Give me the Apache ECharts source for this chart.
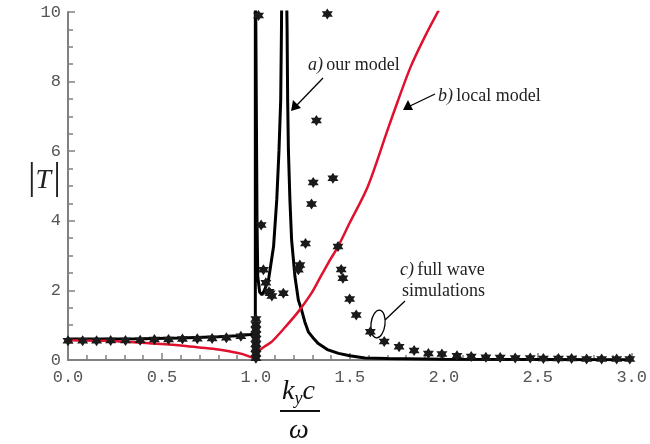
<!DOCTYPE html>
<html>
<head>
<meta charset="utf-8">
<script src="https://cdn.jsdelivr.net/npm/echarts@6/dist/echarts.min.js"></script>
<style>
  html, body { margin: 0; padding: 0; background: #fff; }
  #main { width: 650px; height: 444px; }
</style>
</head>
<body>
<div id="main"></div>
<script>
// a) our model
var modelX = [0, 0.2, 0.4, 0.6, 0.8, 0.9, 0.97, 0.995, 0.997, 0.997, 1.003, 1.006, 1.01, 1.02, 1.032, 1.045, 1.067, 1.094, 1.111, 1.123, 1.132, 1.136, 1.14, 1.16, 1.166, 1.169, 1.173, 1.181, 1.19, 1.208, 1.226, 1.243, 1.26, 1.28, 1.31, 1.33, 1.38, 1.44, 1.5, 1.58, 1.7, 2.0, 2.5, 3.0];
var modelY = [0.6, 0.6, 0.61, 0.63, 0.67, 0.7, 0.73, 0.75, 0, 12, 12, 4, 2.4, 1.95, 1.87, 2.0, 2.3, 3.26, 4.6, 6.03, 7.47, 9.5, 12, 12, 9.5, 7.47, 6.03, 4.6, 3.45, 2.39, 1.72, 1.44, 1.1, 0.8, 0.6, 0.48, 0.3, 0.19, 0.12, 0.06, 0.04, 0.025, 0.015, 0.01];

// b) local model
var localX = [0, 0.2, 0.433, 0.6, 0.7, 0.8, 0.87, 0.93, 0.96, 0.985, 1.0, 1.014, 1.05, 1.085, 1.155, 1.226, 1.296, 1.33, 1.384, 1.437, 1.5, 1.595, 1.7, 1.754, 1.824, 1.9, 1.974];
var localY = [0.57, 0.55, 0.48, 0.42, 0.36, 0.3, 0.24, 0.17, 0.11, 0.05, 0, 0.24, 0.4, 0.53, 0.94, 1.39, 1.92, 2.25, 2.78, 3.26, 3.95, 4.98, 6.6, 7.42, 8.43, 9.3, 10.06];

// c) full wave simulations
var simX = [0, 0.078, 0.152, 0.227, 0.306, 0.384, 0.46, 0.535, 0.609, 0.688, 0.767, 0.843, 0.92,
  1.0, 1.0, 1.0, 1.0, 1.0, 1.0, 1.0, 1.0, 1.0,
  1.014, 1.38, 1.322, 1.41, 1.305, 1.296, 1.028, 1.264, 1.437, 1.04, 1.234, 1.226, 1.454, 1.463,
  1.053, 1.07, 1.076, 1.085, 1.146, 1.499, 1.534, 1.609, 1.683, 1.762, 1.842, 1.918, 1.99, 2.07,
  2.146, 2.224, 2.3, 2.38, 2.46, 2.53, 2.61, 2.68, 2.76, 2.84, 2.92, 2.99];
var simY = [0.55, 0.55, 0.55, 0.56, 0.56, 0.57, 0.59, 0.59, 0.6, 0.61, 0.62, 0.64, 0.68,
  0.05, 0.18, 0.32, 0.46, 0.6, 0.74, 0.88, 1.02, 1.18,
  9.9, 9.94, 6.88, 5.22, 5.1, 4.48, 3.88, 3.35, 3.26, 2.59, 2.73, 2.59, 2.6, 2.35,
  2.22, 1.96, 1.92, 1.84, 1.92, 1.75, 1.29, 0.81, 0.53, 0.38, 0.27, 0.19, 0.17, 0.12,
  0.1, 0.08, 0.07, 0.06, 0.06, 0.04, 0.04, 0.04, 0.03, 0.03, 0.03, 0.03];

function pairs(xs, ys) {
  var out = [];
  for (var i = 0; i < xs.length; i++) out.push([xs[i], ys[i]]);
  return out;
}

var star = 'path://M0,-10 L2.9,-5 L8.66,-5 L5.77,0 L8.66,5 L2.9,5 L0,10 L-2.9,5 L-8.66,5 L-5.77,0 L-8.66,-5 L-2.9,-5 Z';
var serif = '"Liberation Serif", "DejaVu Serif", serif';
var mono = '"Liberation Mono", "DejaVu Sans Mono", monospace';

var myChart = echarts.init(document.getElementById('main'));

var option = {
  animation: false,
  backgroundColor: '#fff',
  grid: { left: 68, top: 12, width: 568, height: 348 },
  xAxis: {
    type: 'value', min: 0, max: 3, interval: 0.5,
    axisLine: { lineStyle: { color: '#808080', width: 2 } },
    axisTick: { inside: true, length: 7, lineStyle: { color: '#808080', width: 1.5 } },
    minorTick: { show: true, splitNumber: 5, length: 5, lineStyle: { color: '#808080', width: 1.5 } },
    splitLine: { show: false },
    axisLabel: {
      margin: 9, fontFamily: mono, fontSize: 17, color: '#555',
      formatter: function (v) { return v.toFixed(1); }
    }
  },
  yAxis: {
    type: 'value', min: 0, max: 10, interval: 2,
    axisLine: { show: true, lineStyle: { color: '#808080', width: 2 } },
    axisTick: { show: true, inside: true, length: 7, lineStyle: { color: '#808080', width: 1.5 } },
    minorTick: { show: true, splitNumber: 4, length: 5, lineStyle: { color: '#808080', width: 1.5 } },
    splitLine: { show: false },
    axisLabel: { margin: 7, fontFamily: mono, fontSize: 17, color: '#555' }
  },
  series: [
    {
      name: 'our model', type: 'line', data: pairs(modelX, modelY),
      showSymbol: false, clip: true,
      lineStyle: { color: '#000', width: 3 }, z: 3
    },
    {
      name: 'local model', type: 'line', data: pairs(localX, localY),
      showSymbol: false, clip: true, smooth: 0.3,
      lineStyle: { color: '#e0102f', width: 2.5 }, z: 4
    },
    {
      name: 'full wave simulations', type: 'scatter', data: pairs(simX, simY),
      symbol: star, symbolSize: 11,
      itemStyle: { color: '#1a1a1a', opacity: 1 }, z: 5
    }
  ],
  graphic: [
    // |T|
    {
      type: 'text', left: 28, top: 160,
      style: {
        text: '{b||}{t|T}{b||}',
        rich: {
          b: { fontFamily: serif, fontSize: 38, fill: '#222' },
          t: { fontFamily: serif, fontSize: 28, fontStyle: 'italic', fill: '#222', padding: [4, 2, 0, 0] }
        }
      }
    },
    // k_y c / omega
    {
      type: 'text', left: 282, top: 378,
      style: {
        text: '{i|k}{s|y}{i|c}',
        rich: {
          i: { fontFamily: serif, fontSize: 28, fontStyle: 'italic', fill: '#111' },
          s: { fontFamily: serif, fontSize: 18, fontStyle: 'italic', fill: '#111', padding: [14, 0, 0, 0] }
        }
      }
    },
    { type: 'line', shape: { x1: 280, y1: 411, x2: 320, y2: 411 }, style: { stroke: '#111', lineWidth: 2 } },
    {
      type: 'text', left: 289, top: 417,
      style: { text: 'ω', fontFamily: serif, fontSize: 28, fontStyle: 'italic', fill: '#111' }
    },
    // a) our model
    {
      type: 'text', left: 308, top: 56,
      style: {
        text: '{i|a)} {r|our model}',
        rich: {
          i: { fontFamily: serif, fontSize: 18, fontStyle: 'italic', fill: '#222' },
          r: { fontFamily: serif, fontSize: 18, fill: '#222' }
        }
      }
    },
    { type: 'line', shape: { x1: 323, y1: 78, x2: 297, y2: 105 }, style: { stroke: '#000', lineWidth: 1.3 } },
    { type: 'polygon', shape: { points: [[291, 111], [293, 100], [301, 108]] }, style: { fill: '#000' } },
    // b) local model
    {
      type: 'text', left: 438, top: 87,
      style: {
        text: '{i|b)} {r|local model}',
        rich: {
          i: { fontFamily: serif, fontSize: 18, fontStyle: 'italic', fill: '#222' },
          r: { fontFamily: serif, fontSize: 18, fill: '#222' }
        }
      }
    },
    { type: 'line', shape: { x1: 435, y1: 94, x2: 410, y2: 106 }, style: { stroke: '#000', lineWidth: 1.3 } },
    { type: 'polygon', shape: { points: [[403, 110], [408, 100], [413, 110]] }, style: { fill: '#000' } },
    // c) full wave simulations
    {
      type: 'text', left: 400, top: 261,
      style: {
        text: '{i|c)} {r|full wave}',
        rich: {
          i: { fontFamily: serif, fontSize: 18, fontStyle: 'italic', fill: '#222' },
          r: { fontFamily: serif, fontSize: 18, fill: '#222' }
        }
      }
    },
    {
      type: 'text', left: 402, top: 282,
      style: { text: 'simulations', fontFamily: serif, fontSize: 18, fill: '#222' }
    },
    {
      type: 'ellipse', shape: { cx: 378, cy: 324, rx: 7, ry: 14 }, rotation: -0.12,
      originX: 378, originY: 324,
      style: { stroke: '#000', fill: 'none', lineWidth: 1.3 }
    },
    { type: 'line', shape: { x1: 385, y1: 320, x2: 405, y2: 301 }, style: { stroke: '#000', lineWidth: 1.3 } }
  ]
};

myChart.setOption(option);
</script>
</body>
</html>
